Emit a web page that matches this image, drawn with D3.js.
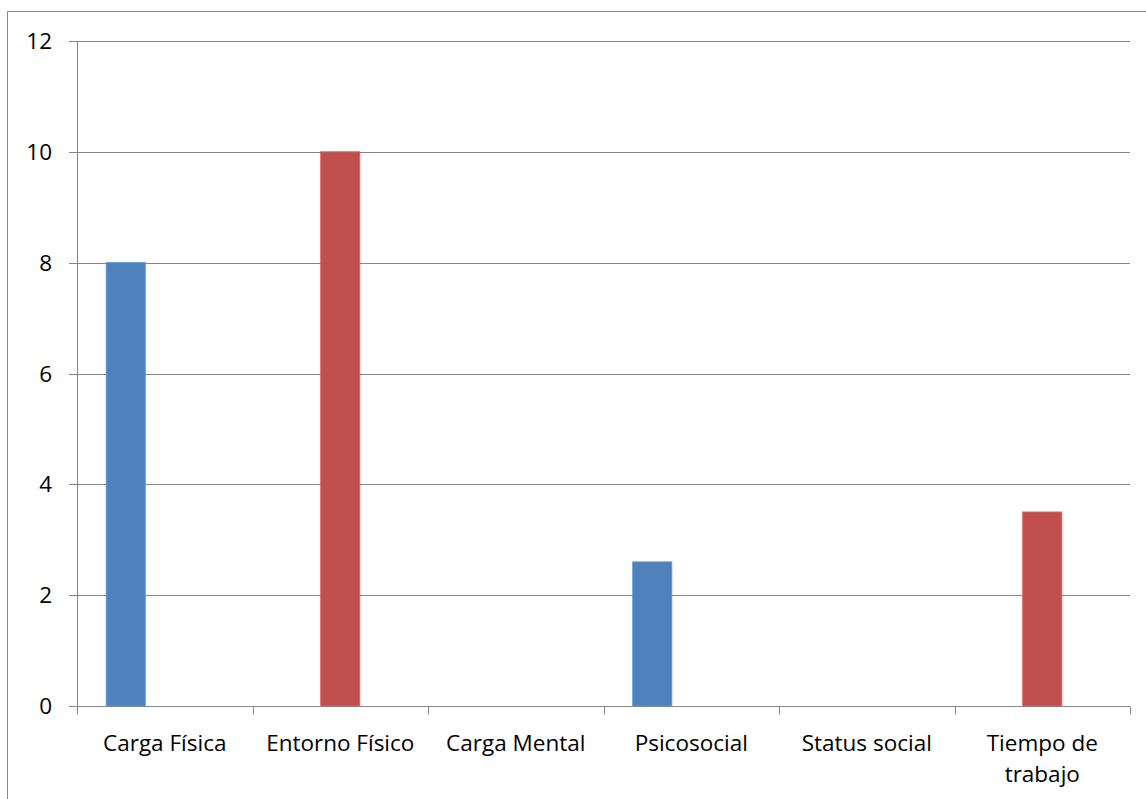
<!DOCTYPE html>
<html>
<head>
<meta charset="utf-8">
<script src="https://cdn.jsdelivr.net/npm/d3@7"></script>
<style>
  body { margin: 0; background: #fff; }
  svg { display: block; font-family: "Open Sans", sans-serif; }
</style>
</head>
<body>
<svg width="1146" height="799"></svg>
<script>
// categorias y series
const categories = ["Carga Física", "Entorno Físico", "Carga Mental", "Psicosocial", "Status social", "Tiempo de trabajo"];
const serie1 = [8, 0, 0, 2.6, 0, 0];
const serie2 = [0, 10, 0, 0, 0, 3.5];
const serie3 = [0, 0, 0, 0, 0, 0];
const seriesNames = ["Serie1", "Serie2", "Serie3"];
const colors = ["#4F81BD", "#C0504D", "#9BBB59"];
const yTicks = [0, 2, 4, 6, 8, 10, 12];

const svg = d3.select("svg");
const margin = { left: 77, right: 16, top: 41, bottom: 93 };
const W = 1146, H = 799;

// borde del grafico
svg.append("rect")
  .attr("x", 7.5).attr("y", 11.5)
  .attr("width", W + 20).attr("height", H + 20)
  .attr("fill", "none").attr("stroke", "#898989").attr("stroke-width", 1);

const x0 = d3.scaleBand()
  .domain(categories)
  .range([margin.left, W - margin.right]);

// ancho de separacion 150% como en Excel
const bw = x0.bandwidth() / (seriesNames.length + 1.5);

const y = d3.scaleLinear().domain([0, 12]).range([H - margin.bottom, margin.top]);

// lineas de cuadricula
svg.append("g")
  .selectAll("line")
  .data(yTicks.slice(1))
  .join("line")
  .attr("x1", margin.left - 8).attr("x2", W - margin.right)
  .attr("y1", d => Math.round(y(d)) + 0.5).attr("y2", d => Math.round(y(d)) + 0.5)
  .attr("stroke", "#868686").attr("stroke-width", 1);

// barras
const data = [serie1, serie2, serie3];
data.forEach((vals, s) => {
  svg.append("g")
    .selectAll("rect")
    .data(vals.map((v, i) => ({ v, c: categories[i] })).filter(d => d.v > 0))
    .join("rect")
    .attr("x", d => x0(d.c) + bw * 0.75 + s * bw)
    .attr("y", d => y(d.v))
    .attr("width", bw)
    .attr("height", d => y(0) - y(d.v))
    .attr("fill", colors[s])
    .attr("stroke", d3.color(colors[s]).brighter(0.4))
    .attr("stroke-width", 1);
});

// ejes
const y0 = Math.round(y(0)) + 0.5;
svg.append("line")
  .attr("x1", margin.left + 0.5).attr("x2", margin.left + 0.5)
  .attr("y1", margin.top).attr("y2", y0)
  .attr("stroke", "#868686");
svg.append("line")
  .attr("x1", margin.left - 8).attr("x2", W - margin.right)
  .attr("y1", y0).attr("y2", y0)
  .attr("stroke", "#868686");

svg.append("g")
  .selectAll("text")
  .data(yTicks)
  .join("text")
  .attr("x", 52).attr("y", d => y(d))
  .attr("dy", "0.36em")
  .attr("text-anchor", "end")
  .attr("font-size", 22.5)
  .attr("fill", "#000")
  .text(d => d);

// marcas del eje x
const xt = categories.map(c => x0(c)).concat([W - margin.right]);
svg.append("g")
  .selectAll("line")
  .data(xt)
  .join("line")
  .attr("x1", d => Math.round(d) + 0.5).attr("x2", d => Math.round(d) + 0.5)
  .attr("y1", y0).attr("y2", y0 + 8)
  .attr("stroke", "#868686");

// etiquetas de categoria
const labels = svg.append("g")
  .selectAll("text")
  .data(categories)
  .join("text")
  .attr("x", d => x0(d) + x0.bandwidth() / 2)
  .attr("y", 751)
  .attr("text-anchor", "middle")
  .attr("font-size", 22.5)
  .attr("fill", "#000");
labels.each(function(d) {
  const t = d3.select(this);
  const lines = d === "Tiempo de trabajo" ? ["Tiempo de", "trabajo"] : [d];
  lines.forEach((l, i) => {
    t.append("tspan")
      .attr("x", x0(d) + x0.bandwidth() / 2)
      .attr("dy", i === 0 ? 0 : 31)
      .text(l);
  });
});
</script>
</body>
</html>
